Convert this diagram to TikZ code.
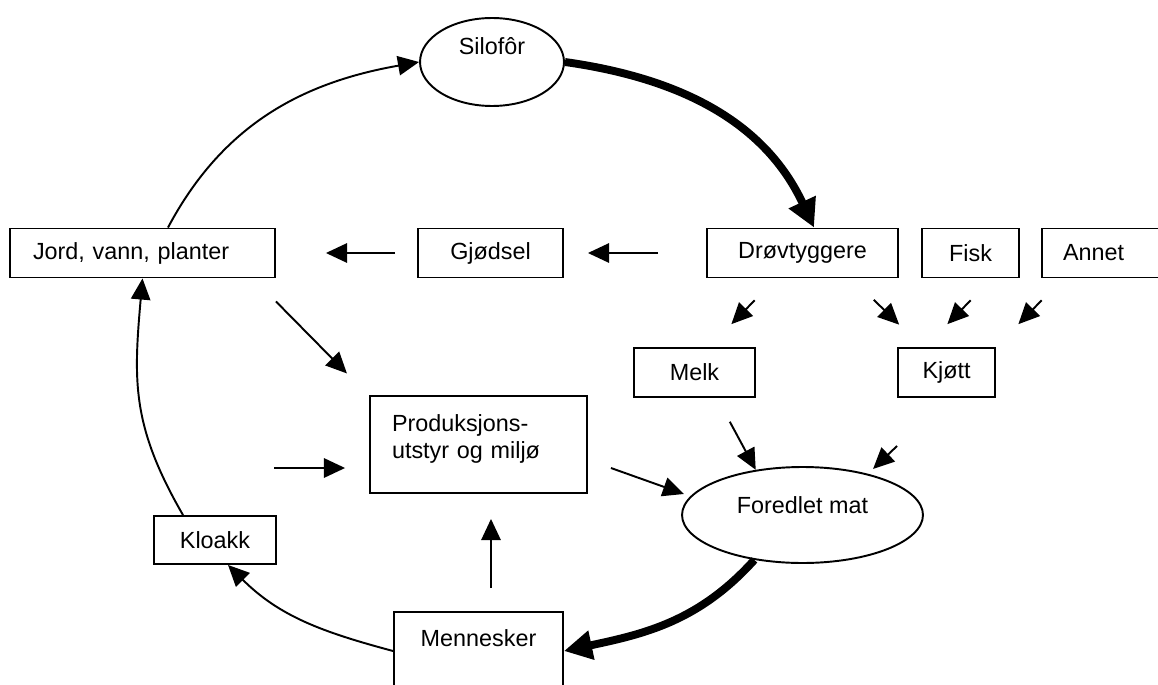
\documentclass[tikz,border=0pt]{standalone}
\usepackage{fontspec}
\setmainfont{Liberation Sans}
\usetikzlibrary{arrows.meta,shapes.geometric}

\begin{document}
\begin{tikzpicture}[x=0.02cm,y=0.02cm,
    font=\fontsize{13.3pt}{15.4pt}\selectfont,
    kasse/.style={draw,line width=1.1pt,minimum height=0.98cm,inner sep=0pt},
    rund/.style={draw,ellipse,line width=1.1pt,inner sep=0pt,text height=0.32cm},
    pil/.style={-{Triangle[length=12pt,width=11pt]},line width=1.1pt},
    tykk/.style={-{Triangle[length=16pt,width=16pt]},line width=4.5pt},
    kort/.style={pil,shorten <=0.61cm,shorten >=0.64cm}
  ]
  \useasboundingbox (0,0) rectangle (1158,684);
  \clip (0,0) rectangle (1158,684);

  % noder
  \node[rund,minimum width=2.88cm,minimum height=1.76cm,text depth=0.6cm] (silo) at (492,622) {Silofôr};
  \node[kasse,minimum width=5.3cm,text width=4.38cm,inner xsep=0.46cm,align=left] (jord) at (142.5,431) {Jord, vann, planter};
  \node[kasse,minimum width=2.9cm] (gjodsel) at (490.5,431) {Gjødsel};
  \node[kasse,minimum width=3.82cm] (drov) at (802.5,431) {Drøvtyggere};
  \node[kasse,minimum width=1.94cm] (fisk) at (970.5,431) {Fisk};
  \node[kasse,minimum width=2.56cm,text width=1.72cm,inner xsep=0.42cm,align=left] (annet) at (1106,431) {Annet};
  \node[kasse,minimum width=2.42cm] (melk) at (694.5,311.5) {Melk};
  \node[kasse,minimum width=1.94cm] (kjott) at (946.5,311.5) {Kjøtt};
  \node[kasse,minimum width=4.34cm,minimum height=1.94cm,text width=3.46cm,inner xsep=0.44cm,align=left,
    text height=0.32cm,text depth=0.86cm] (prod) at (478.5,239.5) {Produksjons-\\utstyr og miljø};
  \node[rund,minimum width=4.82cm,minimum height=1.92cm,text depth=0.4cm] (mat) at (802.5,169) {Foredlet mat};
  \node[kasse,minimum width=2.44cm,minimum height=0.96cm] (kloakk) at (215,144) {Kloakk};
  \node[kasse,minimum width=3.38cm,minimum height=1.56cm,text height=0.32cm,text depth=0.52cm] (menn) at (478.5,33) {Mennesker};

  % kretsløpet
  \draw[pil] ([xshift=0.51cm]jord.north) to[out=62,in=190] (silo.west);
  \draw[tykk] (silo.east) to[out=-8,in=115] ([xshift=0.23cm]drov.north);
  \draw[tykk] (mat.223) to[out=228,in=12] (menn.east);
  \draw[pil] (menn.west) to[out=165,in=-45] ([xshift=0.26cm]kloakk.south);
  \draw[pil] ([xshift=-0.64cm]kloakk.north) to[out=120,in=265,looseness=1.1] (jord.south);

  % gjødsel
  \draw[pil,shorten <=0.96cm,shorten >=0.48cm] (drov.west) -- (gjodsel.east);
  \draw[pil,shorten <=0.44cm,shorten >=1cm] (gjodsel.west) -- (jord.east);

  % produkter
  \draw[kort] ([xshift=-0.53cm]drov.south) -- ([xshift=0.29cm]melk.north);
  \draw[kort] ([xshift=0.99cm]drov.south) -- ([xshift=-0.49cm]kjott.north);
  \draw[kort] ([xshift=0.43cm]fisk.south) -- ([xshift=-0.43cm]kjott.north);
  \draw[kort] ([xshift=0.44cm]annet.south west) -- (kjott.north east);
  \draw[pil,shorten <=0.54cm] ([xshift=0.45cm]melk.south) -- (mat.136);
  \draw[pil] ([yshift=-0.96cm]kjott.south west) -- ++(-24,-23);

  % produksjonsutstyr
  \draw[pil] ([yshift=-0.46cm]jord.south east) -- ++(71,-72);
  \draw[pil] ([xshift=-1.9cm,yshift=-0.47cm]prod.west) -- ++(71,0);
  \draw[pil] ([xshift=0.46cm,yshift=-0.47cm]prod.east) -- ++(73,-26);
  \draw[pil,shorten <=0.46cm,shorten >=0.5cm] ([xshift=0.25cm]menn.north) -- ([xshift=0.25cm]prod.south);
\end{tikzpicture}
\end{document}
